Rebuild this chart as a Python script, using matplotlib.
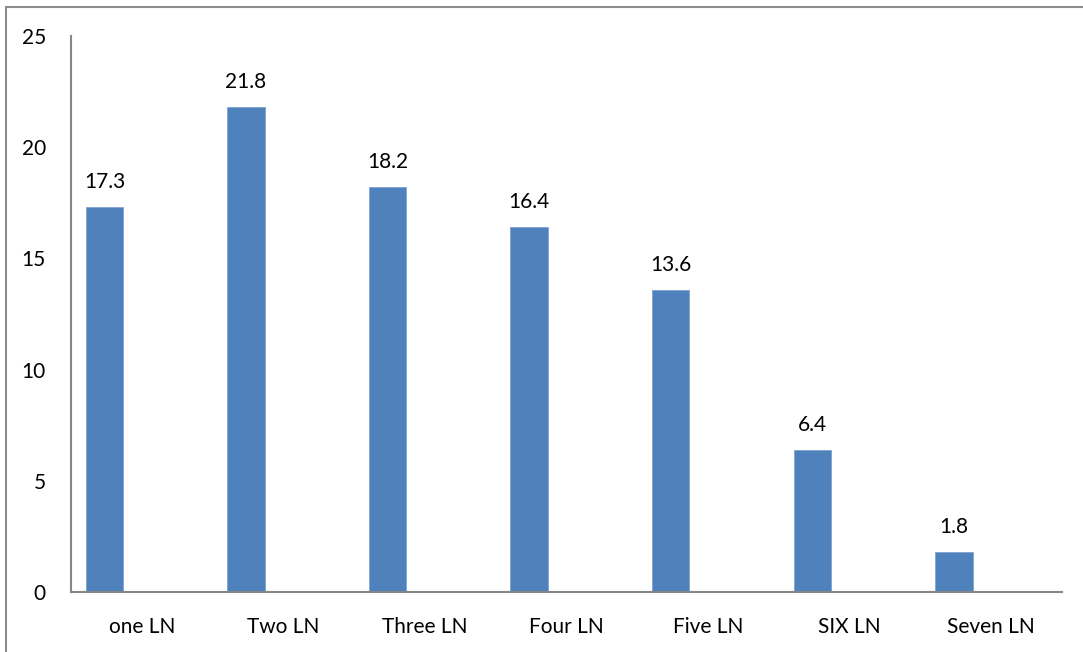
import matplotlib.pyplot as plt
import numpy as np
from matplotlib.patches import Rectangle

categories = ["one LN", "Two LN", "Three LN", "Four LN", "Five LN", "SIX LN", "Seven LN"]
values = [17.3, 21.8, 18.2, 16.4, 13.6, 6.4, 1.8]

plt.rcParams['font.family'] = ['Lato', 'DejaVu Sans']

W, H = 1083, 652
fig = plt.figure(figsize=(W / 100, H / 100), dpi=100)

# outer frame of the chart area
fig.patches.append(Rectangle((6 / W, -0.1), 1.2, 1.1 - 7 / H, transform=fig.transFigure,
                             fill=False, edgecolor='#8c8c8c', linewidth=1.5))

ax = fig.add_axes([71 / W, 1 - 592 / H, (1062 - 71) / W, (592 - 36) / H])

x = np.arange(len(categories))
bw = 0.265
bars = ax.bar(x - 0.264, values, width=bw, color='#4F81BD', edgecolor='#7fa3d1', linewidth=0.6)

for xi, v in zip(x, values):
    ax.annotate(f"{v}", (xi - 0.264, v), xytext=(0, 18), textcoords='offset points',
                ha='center', va='center', fontsize=15)

ax.set_xlim(-0.5, len(categories) - 0.5)
ax.set_ylim(0, 25)
ax.set_yticks(range(0, 26, 5))
ax.set_xticks(x)
ax.set_xticklabels(categories)
ax.tick_params(axis='both', length=0, labelsize=15)
ax.tick_params(axis='y', pad=18)
ax.tick_params(axis='x', pad=18)

for s in ['top', 'right']:
    ax.spines[s].set_visible(False)
for s in ['left', 'bottom']:
    ax.spines[s].set_color('#868686')
    ax.spines[s].set_linewidth(1.5)

plt.savefig("out.png", dpi=100)
